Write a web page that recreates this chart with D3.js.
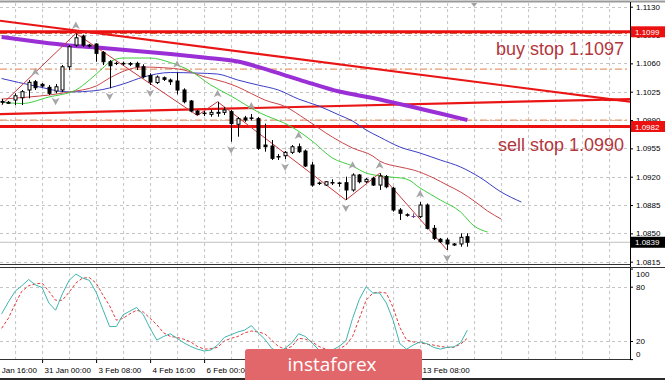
<!DOCTYPE html>
<html>
<head>
<meta charset="utf-8">
<script src="https://cdn.jsdelivr.net/npm/d3@7"></script>
<style>
body { margin: 0; background: #fff; }
svg { display: block; font-family: "Liberation Sans", Arial, sans-serif; }
</style>
</head>
<body>
<svg id="chart" width="665" height="380"></svg>
<script>
// EURUSD H4 - candles (bar index 0..69)
const opens = [1.1013,1.10106,1.10147,1.10175,1.10271,1.10373,1.10341,1.10304,1.10258,1.10271,
  1.10558,1.10826,1.10937,1.10826,1.10839,1.10736,1.10620,1.10598,1.10600,1.10598,
  1.10600,1.10558,1.10450,1.10363,1.10422,1.10394,1.10382,1.10271,1.10135,1.10011,
  1.09986,1.09970,1.09983,1.09995,1.10003,1.09848,1.09926,1.09926,1.09917,1.09591,
  1.09579,1.09449,1.09459,1.09501,1.09570,1.09517,1.09344,1.09122,1.09097,1.09128,
  1.09116,1.09126,1.09036,1.09221,1.09138,1.09180,1.09097,1.09200,1.09057,1.08789,
  1.08730,1.08708,1.08706,1.08850,1.08562,1.08427,1.08418,1.08356,1.08369,1.08459];
const highs = [1.1016,1.10135,1.10230,1.10271,1.10394,1.10394,1.10357,1.10332,1.10345,1.10579,
  1.10826,1.10970,1.10955,1.10839,1.10847,1.10752,1.10641,1.10620,1.10622,1.10616,
  1.10620,1.10588,1.10477,1.10450,1.10437,1.10413,1.10489,1.10292,1.10147,1.10024,
  1.10011,1.10024,1.10126,1.10061,1.10024,1.09938,1.09951,1.09975,1.09938,1.09856,
  1.09653,1.09480,1.09517,1.09591,1.09610,1.09536,1.09381,1.09140,1.09147,1.09168,
  1.09138,1.09200,1.09242,1.09233,1.09184,1.09200,1.09242,1.09221,1.09076,1.08813,
  1.08748,1.08746,1.08887,1.08869,1.08603,1.08443,1.08443,1.08381,1.08501,1.08501];
const lows = [1.1009,1.10098,1.10085,1.10085,1.10168,1.10271,1.10301,1.10209,1.10230,1.10246,
  1.10518,1.10805,1.10805,1.10796,1.10620,1.10579,1.10292,1.10579,1.10573,1.10567,
  1.10518,1.10415,1.10333,1.10345,1.10382,1.10333,1.10217,1.10106,1.09995,1.09956,
  1.09949,1.09941,1.09941,1.09962,1.09632,1.09694,1.09877,1.09895,1.09530,1.09509,
  1.09406,1.09406,1.09418,1.09480,1.09492,1.09320,1.09076,1.09097,1.09085,1.09097,
  1.09076,1.08912,1.09015,1.09118,1.09122,1.09085,1.09036,1.09057,1.08768,1.08665,
  1.08706,1.08690,1.08690,1.08548,1.08418,1.08381,1.08295,1.08344,1.08335,1.08335];
const closes = [1.1012,1.10119,1.10200,1.10250,1.10366,1.10299,1.10320,1.10230,1.10311,1.10558,
  1.10805,1.10916,1.10826,1.10814,1.10724,1.10620,1.10571,1.10600,1.10594,1.10589,
  1.10558,1.10435,1.10369,1.10431,1.10403,1.10373,1.10271,1.10126,1.10011,1.09970,
  1.09980,1.09995,1.09995,1.10024,1.09856,1.09917,1.09901,1.09920,1.09551,1.09570,
  1.09427,1.09443,1.09501,1.09570,1.09509,1.09332,1.09097,1.09116,1.09138,1.09122,
  1.09122,1.09036,1.09221,1.09138,1.09168,1.09097,1.09208,1.09076,1.08789,1.08748,
  1.08723,1.08708,1.08850,1.08562,1.08439,1.08397,1.08369,1.08369,1.08451,1.08390];

// alligator (shifted) + slow MA, [bar, price]
const lips = [[0,1.10122],[3,1.10104],[7,1.10184],[11,1.10271],[13,1.10394],[15,1.10542],[16,1.10616],
  [18,1.10666],[22,1.10666],[25,1.10610],[28,1.10505],[31,1.10332],[34,1.10196],[38,1.09999],[43,1.09814],
  [46,1.09641],[49,1.09431],[52,1.09332],[54,1.09245],[57,1.09202],[60,1.09171],[62,1.09060],[65,1.08912],
  [68,1.08764],[70,1.08591],[72,1.08517]];
const teeth = [[0,1.10159],[4,1.10184],[7,1.10209],[10,1.10246],[14,1.10320],[16,1.10419],[19,1.10530],
  [21,1.10555],[24,1.10546],[27,1.10518],[30,1.10435],[33,1.10369],[35,1.10308],[37,1.10227],[39,1.10147],
  [42,1.10067],[45,1.09912],[49,1.09690],[52,1.09554],[55,1.09455],[56,1.09394],[59,1.09320],[61,1.09283],
  [64,1.09184],[66,1.09097],[68,1.09011],[70,1.08900],[72,1.08776],[74,1.08677]];
const jaw = [[0,1.10413],[5,1.10320],[10,1.10246],[14,1.10264],[18,1.10345],[21,1.10431],[25,1.10487],
  [29,1.10480],[32,1.10468],[35,1.10394],[38,1.10332],[41,1.10271],[44,1.10159],[47,1.10073],[50,1.09962],
  [52,1.09888],[54,1.09777],[56,1.09690],[59,1.09567],[62,1.09492],[65,1.09406],[68,1.09320],[71,1.09184],
  [74,1.09011],[77,1.08887]];
const slowMA = [[0,1.10925],[5,1.10869],[10,1.10820],[15,1.10789],[20,1.10752],[25,1.10715],[30,1.10672],
  [35,1.10622],[40,1.10505],[45,1.10375],[50,1.10252],[55,1.10172],[60,1.10079],[65,1.09980],[69,1.09900]];

// zigzag and fractals
const zigzag = [[0,1.1009],[11,1.1097],[29,1.09956],[32,1.10126],[51,1.08912],[56,1.09242],[66,1.08295]];
const upFractals = [5,11,26,32,37,44,52,56,62];
const downFractals = [8,16,22,34,42,51,66];

// levels and trend lines
const redLevels = [1.1099, 1.0982];
const dashLevels = [1.1097, 1.1053, 1.0990];
const trendDown = [[0,1.11124],[93,1.10128]];
const trendUp = [[0,1.09974],[93,1.10159]];
const lastPrice = 1.0839;
const notes = [["buy stop 1.1097", 55], ["sell stop 1.0990", 150.5]];

// stochastic
const stochMain = [50,63,75,81,88,82,79,62,54,72,87,94,89.5,87,74,55,36,36,49,53,
  57,49,34,21,25,28,23,18,14,11,9,10,15.5,24,27,30,32,37,29,22,
  12,8,12,18,28,25,18,10,8,10,14,20,45,66,80,73,73,62,43,17,
  11,15.5,19,17,13,11,13,13.5,18,32];
const stochSignal = [34,45,61,75,81,83,84,75,65,65,74,84,89.5,90,84,71,59,43,45,50,
  54,52,45,38,29,25,24,22,19,14,11,11.5,13,20,23,25,29,31,30,28,
  21,14,11,14,23,22,19,14,11,10,11,15.5,25,45,65,73,74,73,57,35,
  21,19,18,16.5,15.5,14,13,13,16.5,23];

// axis labels
const priceTicks = [1.1130,1.1095,1.1060,1.1025,1.0990,1.0955,1.0920,1.0885,1.0850,1.0815];
const tickBars = [-2,6,14,22,30,38,46,54,62];
const tickLabels = ["29 Jan 16:00","31 Jan 00:00","3 Feb 08:00","4 Feb 16:00","6 Feb 00:00",
  "7 Feb 08:00","10 Feb 16:00","12 Feb 00:00","13 Feb 08:00"];
const stochTicks = [100,80,20,0];

const svg = d3.select("#chart");
const axisX = 630;

const x = d3.scaleLinear().domain([0, 93]).range([1.6, 629.35]);
const y = d3.scaleLinear().domain([1.0815, 1.1130]).range([261.7, 6.7]);
const ys = d3.scaleLinear().domain([0, 100]).range([359.1, 268.6]);

const defs = svg.append("defs");
defs.append("clipPath").attr("id", "cmain").append("rect").attr("x", 0).attr("y", 3).attr("width", axisX).attr("height", 261);
defs.append("clipPath").attr("id", "csub").append("rect").attr("x", 0).attr("y", 268).attr("width", axisX).attr("height", 91);

const main = svg.append("g").attr("clip-path", "url(#cmain)");
const sub = svg.append("g").attr("clip-path", "url(#csub)");

// grid
const gridBars = d3.range(2, 93, 4);
[[main, 3, 264], [sub, 267, 359]].forEach(([g, y0, y1]) => {
  g.selectAll(null).data(gridBars).enter().append("line")
    .attr("x1", d => x(d) + 0.5).attr("x2", d => x(d) + 0.5)
    .attr("y1", y0).attr("y2", y1)
    .attr("stroke", "#c4c4c4").attr("stroke-dasharray", "3,3");
});
main.selectAll(null).data(priceTicks).enter().append("line")
  .attr("x1", 0).attr("x2", axisX)
  .attr("y1", d => Math.round(y(d)) + 0.5).attr("y2", d => Math.round(y(d)) + 0.5)
  .attr("stroke", "#c4c4c4").attr("stroke-dasharray", "3,3");
sub.selectAll(null).data([80, 20]).enter().append("line")
  .attr("x1", 0).attr("x2", axisX)
  .attr("y1", d => Math.round(ys(d)) + 0.5).attr("y2", d => Math.round(ys(d)) + 0.5)
  .attr("stroke", "#c4c4c4").attr("stroke-dasharray", "3,3");

// dashed pending levels
main.selectAll(null).data(dashLevels).enter().append("line")
  .attr("x1", 0).attr("x2", axisX)
  .attr("y1", d => y(d)).attr("y2", d => y(d))
  .attr("stroke", (d, i) => i == 0 ? "#c0703a" : "#e59a6e")
  .attr("stroke-width", 1.3)
  .attr("stroke-dasharray", "7,3,2,3");

// red horizontal levels
main.selectAll(null).data(redLevels).enter().append("line")
  .attr("x1", 0).attr("x2", axisX)
  .attr("y1", d => y(d)).attr("y2", d => y(d))
  .attr("stroke", "#ec1111").attr("stroke-width", 3);

// trend lines, extended to both edges
function extend(t) {
  const s = (t[1][1] - t[0][1]) / (t[1][0] - t[0][0]);
  const i0 = x.invert(0), i1 = x.invert(axisX);
  return [[i0, t[0][1] + s * (i0 - t[0][0])], [i1, t[0][1] + s * (i1 - t[0][0])]];
}
const straight = d3.line().x(d => x(d[0])).y(d => y(d[1]));
[trendDown, trendUp].forEach(t => {
  main.append("path").datum(extend(t)).attr("d", straight)
    .attr("fill", "none").attr("stroke", "#ea1515").attr("stroke-width", 2.2);
});
main.append("path")
  .attr("d", `M${axisX - 26},${y(1.1016)} L${axisX},${y(1.10145) + 1} L${axisX - 26},${y(1.10135)} Z`)
  .attr("fill", "#ea1515");

// moving averages
const smooth = d3.line().x(d => x(d[0])).y(d => y(d[1])).curve(d3.curveMonotoneX);
main.append("path").datum(slowMA).attr("d", smooth)
  .attr("fill", "none").attr("stroke", "#9a2fd6").attr("stroke-width", 4);
main.append("path").datum(jaw).attr("d", smooth)
  .attr("fill", "none").attr("stroke", "#3a3ec4").attr("stroke-width", 1);
main.append("path").datum(teeth).attr("d", smooth)
  .attr("fill", "none").attr("stroke", "#c9464a").attr("stroke-width", 1);
main.append("path").datum(lips).attr("d", smooth)
  .attr("fill", "none").attr("stroke", "#3fcf3f").attr("stroke-width", 1);

// zigzag
main.append("path").datum(zigzag).attr("d", straight)
  .attr("fill", "none").attr("stroke", "#c8383c").attr("stroke-width", 1);

// current price line
main.append("line").attr("x1", 0).attr("x2", axisX)
  .attr("y1", y(lastPrice)).attr("y2", y(lastPrice))
  .attr("stroke", "#c0c0c0");

// candles
const bars = d3.range(opens.length);
main.selectAll(".wick").data(bars).enter().append("line")
  .attr("x1", i => Math.round(x(i)) + 0.5).attr("x2", i => Math.round(x(i)) + 0.5)
  .attr("y1", i => y(highs[i])).attr("y2", i => y(lows[i]))
  .attr("stroke", i => opens[i] == closes[i] ? "#7a3a9a" : "#000");
main.selectAll(".body").data(bars).enter().append("rect")
  .attr("x", i => Math.round(x(i)) - 1)
  .attr("y", i => y(Math.max(opens[i], closes[i])))
  .attr("width", 3)
  .attr("height", i => Math.max(0.01, Math.abs(y(opens[i]) - y(closes[i]))))
  .attr("fill", i => closes[i] > opens[i] ? "#fff" : "#000")
  .attr("stroke", i => opens[i] == closes[i] ? "#7a3a9a" : "#000");

// fractal arrows
main.selectAll(".fu").data(upFractals).enter().append("path")
  .attr("transform", i => `translate(${x(i)},${y(highs[i]) - 8})`)
  .attr("d", "M0,-4L4,3.5L0,1.5L-4,3.5Z")
  .attr("fill", "#a6a6a6");
main.selectAll(".fd").data(downFractals).enter().append("path")
  .attr("transform", i => `translate(${x(i)},${y(lows[i]) + 8})`)
  .attr("d", "M0,4L4,-3.5L0,-1.5L-4,-3.5Z")
  .attr("fill", "#a6a6a6");

// chart shift marker
svg.append("path").attr("d", `M${x(70) - 3},3 L${x(70) + 3},3 L${x(70)},7 Z`).attr("fill", "#a0a0a0");

// notes
main.selectAll(".note").data(notes).enter().append("text")
  .attr("x", 624).attr("y", d => d[1])
  .attr("text-anchor", "end")
  .attr("font-size", 18)
  .attr("fill", "#b3363c")
  .text(d => d[0]);

// stochastic
const sline = d3.line().x((d, i) => x(i)).y(d => ys(d));
sub.append("path").datum(stochSignal).attr("d", sline)
  .attr("fill", "none").attr("stroke", "#e23a3a").attr("stroke-dasharray", "3,2");
sub.append("path").datum(stochMain).attr("d", sline)
  .attr("fill", "none").attr("stroke", "#3fb6b0");

// frame
svg.append("line").attr("x1", 0).attr("x2", 665).attr("y1", 1.5).attr("y2", 1.5).attr("stroke", "#9a9a9a").attr("stroke-width", 2);
svg.append("line").attr("x1", axisX + 0.5).attr("x2", axisX + 0.5).attr("y1", 2).attr("y2", 360).attr("stroke", "#000");
svg.append("line").attr("x1", 0).attr("x2", axisX).attr("y1", 264.5).attr("y2", 264.5).attr("stroke", "#333");
svg.append("line").attr("x1", 0).attr("x2", 665).attr("y1", 267.5).attr("y2", 267.5).attr("stroke", "#333");
svg.append("line").attr("x1", 0).attr("x2", axisX + 1).attr("y1", 359.5).attr("y2", 359.5).attr("stroke", "#333");
svg.append("rect").attr("x", 0).attr("y", 378).attr("width", 665).attr("height", 2).attr("fill", "#2a2a2a");

// price axis
svg.append("g").attr("transform", `translate(${axisX},0)`)
  .call(d3.axisRight(y).tickValues(priceTicks).tickFormat(d3.format(".4f")).tickSize(3).tickPadding(3))
  .call(g => {
    g.attr("font-size", 8).attr("font-family", null);
    g.select(".domain").remove();
    g.selectAll("line").attr("stroke", "#000");
  });

// level labels on the axis
const tags = redLevels.map(p => [p, "#ec1111"]).concat([[lastPrice, "#000"]]);
const tag = svg.selectAll(".tag").data(tags).enter().append("g");
tag.append("rect")
  .attr("x", axisX + 1).attr("y", d => y(d[0]) - 5.5)
  .attr("width", 34).attr("height", 11).attr("fill", d => d[1]);
tag.append("text")
  .attr("x", axisX + 5).attr("y", d => y(d[0]) + 3)
  .attr("font-size", 8).attr("fill", "#fff")
  .text(d => d3.format(".4f")(d[0]));

// stochastic axis
svg.append("g").attr("transform", `translate(${axisX},0)`)
  .call(d3.axisRight(ys).tickValues(stochTicks).tickSize(3).tickPadding(3))
  .call(g => {
    g.attr("font-size", 8).attr("font-family", null);
    g.select(".domain").remove();
    g.selectAll("line").attr("stroke", "#000");
    g.selectAll("text").attr("dy", d => d == 100 ? "0.95em" : d == 0 ? "-0.3em" : "0.32em");
  });

// time axis
svg.append("g").attr("transform", "translate(0,360)")
  .call(d3.axisBottom(x).tickValues(tickBars).tickFormat((d, i) => tickLabels[i]).tickSize(3).tickPadding(4))
  .call(g => {
    g.attr("font-size", 8).attr("font-family", null);
    g.select(".domain").remove();
    g.selectAll("line").attr("stroke", "#000");
    g.selectAll("text").attr("text-anchor", "start").attr("dx", 2);
  });

// watermark
const logo = svg.append("g");
logo.append("rect").attr("x", 245).attr("y", 349).attr("width", 177).attr("height", 36).attr("rx", 3)
  .attr("fill", "#e2676b");
logo.append("text").attr("x", 332).attr("y", 371).attr("text-anchor", "middle")
  .attr("font-family", "'Open Sans', sans-serif").attr("font-size", 19).attr("fill", "#fff")
  .text("instaforex");
</script>
</body>
</html>
